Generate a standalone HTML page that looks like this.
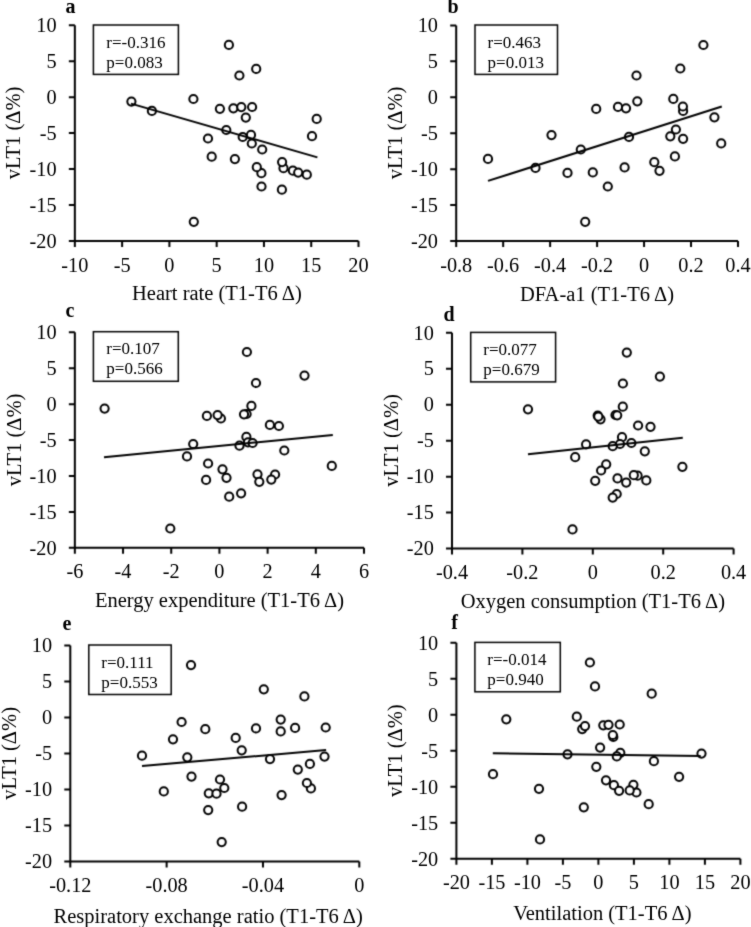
<!DOCTYPE html>
<html><head><meta charset="utf-8"><title>vLT1 correlations</title>
<style>
html,body{margin:0;padding:0;background:#fff;}
body{width:751px;height:927px;overflow:hidden;}
svg{display:block;will-change:transform;}
text{font-family:"Liberation Serif",serif;fill:#000;}
.t{font-size:20.3px;}
.tt{font-size:20.5px;}
.r{font-size:17.0px;}
.lb{font-size:20.0px;font-weight:bold;fill:#000;}
.ax{fill:none;stroke:#000;stroke-width:2.0;}
.bx{fill:none;stroke:#000;stroke-width:1.5;}
.ln{fill:none;stroke:#000;stroke-width:2;}
.pt{fill:#fff;stroke:#000;stroke-width:2.0;}
</style></head>
<body><svg width="751" height="927" viewBox="0 0 751 927">
<defs><filter id="sg" x="0" y="0" width="751" height="927" filterUnits="userSpaceOnUse" color-interpolation-filters="sRGB"><feConvolveMatrix order="3" kernelMatrix="0.03 0.1 0.03 0.1 0.48 0.1 0.03 0.1 0.03" edgeMode="duplicate"/></filter><filter id="st" x="0" y="0" width="751" height="927" filterUnits="userSpaceOnUse" color-interpolation-filters="sRGB"><feConvolveMatrix order="3" kernelMatrix="0.015 0.075 0.015 0.075 0.64 0.075 0.015 0.075 0.015" edgeMode="duplicate"/></filter></defs>
<rect width="751" height="927" fill="#fff"/>
<g filter="url(#sg)"><rect width="751" height="927" fill="#fff"/><path class="ax" d="M74.85 25.2V241.05H358.5M68.85 25.2H74.85M68.85 61.17H74.85M68.85 97.15H74.85M68.85 133.12H74.85M68.85 169.1H74.85M68.85 205.07H74.85M68.85 241.05H74.85M74.85 241.05V247.05M122.12 241.05V247.05M169.4 241.05V247.05M216.67 241.05V247.05M263.95 241.05V247.05M311.23 241.05V247.05M358.5 241.05V247.05"/><rect class="bx" x="93.4" y="25" width="85" height="49.4"/><g class="pt"><circle cx="228.9" cy="44.9" r="4.1"/><circle cx="256.2" cy="68.9" r="4.1"/><circle cx="239.4" cy="75.5" r="4.1"/><circle cx="131.4" cy="101.6" r="4.1"/><circle cx="151.9" cy="110.9" r="4.1"/><circle cx="193.4" cy="99" r="4.1"/><circle cx="219.9" cy="108.8" r="4.1"/><circle cx="233.4" cy="108.3" r="4.1"/><circle cx="241.3" cy="107.1" r="4.1"/><circle cx="252.1" cy="107" r="4.1"/><circle cx="245.8" cy="117.6" r="4.1"/><circle cx="316.7" cy="118.9" r="4.1"/><circle cx="226.3" cy="130" r="4.1"/><circle cx="208" cy="138.5" r="4.1"/><circle cx="242.7" cy="137" r="4.1"/><circle cx="251" cy="134.9" r="4.1"/><circle cx="251.8" cy="143.5" r="4.1"/><circle cx="262.2" cy="149.5" r="4.1"/><circle cx="312" cy="136.2" r="4.1"/><circle cx="211.7" cy="156.7" r="4.1"/><circle cx="234.9" cy="159.1" r="4.1"/><circle cx="283.5" cy="168.2" r="4.1"/><circle cx="282.1" cy="162.1" r="4.1"/><circle cx="261.4" cy="173.2" r="4.1"/><circle cx="256.8" cy="167.2" r="4.1"/><circle cx="292.9" cy="170.7" r="4.1"/><circle cx="298.2" cy="172.6" r="4.1"/><circle cx="306.8" cy="174.7" r="4.1"/><circle cx="261.5" cy="186.5" r="4.1"/><circle cx="281.9" cy="189.7" r="4.1"/><circle cx="193.8" cy="221.8" r="4.1"/></g><path class="ln" d="M131 103.6L317.4 157.4"/>
<path class="ax" d="M456.2 25.4V241H738M450.2 25.4H456.2M450.2 61.33H456.2M450.2 97.27H456.2M450.2 133.2H456.2M450.2 169.13H456.2M450.2 205.07H456.2M450.2 241H456.2M456.2 241V247M503.17 241V247M550.13 241V247M597.1 241V247M644.07 241V247M691.03 241V247M738 241V247"/><rect class="bx" x="475" y="25" width="82.5" height="49.4"/><g class="pt"><circle cx="703.4" cy="45" r="4.1"/><circle cx="680.3" cy="68.5" r="4.1"/><circle cx="636.5" cy="75.5" r="4.1"/><circle cx="637.3" cy="101.3" r="4.1"/><circle cx="673.3" cy="98.9" r="4.1"/><circle cx="596.2" cy="108.9" r="4.1"/><circle cx="618" cy="106.9" r="4.1"/><circle cx="626" cy="108.3" r="4.1"/><circle cx="683.1" cy="110.9" r="4.1"/><circle cx="682.9" cy="106.5" r="4.1"/><circle cx="714.4" cy="117.3" r="4.1"/><circle cx="629" cy="136.9" r="4.1"/><circle cx="675.9" cy="129.5" r="4.1"/><circle cx="670.3" cy="136.3" r="4.1"/><circle cx="683.1" cy="138.8" r="4.1"/><circle cx="721.2" cy="143.4" r="4.1"/><circle cx="674.9" cy="156.4" r="4.1"/><circle cx="654.3" cy="162.2" r="4.1"/><circle cx="659.5" cy="170.8" r="4.1"/><circle cx="624.6" cy="167.4" r="4.1"/><circle cx="592.8" cy="172.4" r="4.1"/><circle cx="488" cy="158.9" r="4.1"/><circle cx="535.5" cy="167.9" r="4.1"/><circle cx="551.5" cy="135.1" r="4.1"/><circle cx="580.8" cy="149.5" r="4.1"/><circle cx="567.5" cy="172.9" r="4.1"/><circle cx="607.8" cy="186.5" r="4.1"/><circle cx="585.2" cy="221.8" r="4.1"/></g><path class="ln" d="M488 180.9L721.8 106.5"/>
<path class="ax" d="M74.85 332.3V547.8H364M68.85 332.3H74.85M68.85 368.22H74.85M68.85 404.13H74.85M68.85 440.05H74.85M68.85 475.97H74.85M68.85 511.88H74.85M68.85 547.8H74.85M74.85 547.8V553.8M123.04 547.8V553.8M171.23 547.8V553.8M219.42 547.8V553.8M267.62 547.8V553.8M315.81 547.8V553.8M364 547.8V553.8"/><rect class="bx" x="93.4" y="331.7" width="84.9" height="49.6"/><g class="pt"><circle cx="104.6" cy="408.6" r="4.1"/><circle cx="246.9" cy="352" r="4.1"/><circle cx="304.5" cy="375.6" r="4.1"/><circle cx="256" cy="383" r="4.1"/><circle cx="206.9" cy="415.9" r="4.1"/><circle cx="220.9" cy="418.5" r="4.1"/><circle cx="217.6" cy="415.1" r="4.1"/><circle cx="246.6" cy="414" r="4.1"/><circle cx="251.4" cy="405.9" r="4.1"/><circle cx="244" cy="414.3" r="4.1"/><circle cx="269.9" cy="424.9" r="4.1"/><circle cx="278.9" cy="426" r="4.1"/><circle cx="246.4" cy="436.9" r="4.1"/><circle cx="248" cy="442.3" r="4.1"/><circle cx="252.6" cy="443" r="4.1"/><circle cx="239.5" cy="445.7" r="4.1"/><circle cx="193.2" cy="444" r="4.1"/><circle cx="187" cy="456.4" r="4.1"/><circle cx="284.3" cy="450.5" r="4.1"/><circle cx="331.8" cy="465.9" r="4.1"/><circle cx="208.1" cy="463.5" r="4.1"/><circle cx="222.5" cy="469.3" r="4.1"/><circle cx="226.5" cy="477.8" r="4.1"/><circle cx="206.1" cy="479.9" r="4.1"/><circle cx="257.5" cy="474.3" r="4.1"/><circle cx="259.3" cy="481.8" r="4.1"/><circle cx="275.1" cy="474.5" r="4.1"/><circle cx="271.3" cy="479.6" r="4.1"/><circle cx="241.1" cy="493.3" r="4.1"/><circle cx="229.2" cy="496.7" r="4.1"/><circle cx="170.3" cy="528.5" r="4.1"/></g><path class="ln" d="M104 457.2L332.8 434.9"/>
<path class="ax" d="M452 332.7V548.6H733.6M446 332.7H452M446 368.68H452M446 404.67H452M446 440.65H452M446 476.63H452M446 512.62H452M446 548.6H452M452 548.6V554.6M522.4 548.6V554.6M592.8 548.6V554.6M663.2 548.6V554.6M733.6 548.6V554.6"/><rect class="bx" x="470.7" y="332.4" width="84.9" height="49.5"/><g class="pt"><circle cx="626.8" cy="352.6" r="4.1"/><circle cx="659.9" cy="376.6" r="4.1"/><circle cx="622.9" cy="383.5" r="4.1"/><circle cx="528" cy="409.3" r="4.1"/><circle cx="622.8" cy="406.7" r="4.1"/><circle cx="600.5" cy="419.3" r="4.1"/><circle cx="597.7" cy="415.6" r="4.1"/><circle cx="598.3" cy="416.6" r="4.1"/><circle cx="615.5" cy="415" r="4.1"/><circle cx="617.2" cy="415.3" r="4.1"/><circle cx="638.1" cy="425.5" r="4.1"/><circle cx="650.5" cy="426.8" r="4.1"/><circle cx="622" cy="437.2" r="4.1"/><circle cx="620" cy="444" r="4.1"/><circle cx="612.7" cy="446.2" r="4.1"/><circle cx="631.4" cy="443" r="4.1"/><circle cx="586.1" cy="444.4" r="4.1"/><circle cx="644.8" cy="451.3" r="4.1"/><circle cx="575.2" cy="457.2" r="4.1"/><circle cx="606.2" cy="464.3" r="4.1"/><circle cx="601.1" cy="470.5" r="4.1"/><circle cx="595.2" cy="480.8" r="4.1"/><circle cx="617.5" cy="478.4" r="4.1"/><circle cx="626.2" cy="482.6" r="4.1"/><circle cx="637.6" cy="475.7" r="4.1"/><circle cx="633.8" cy="475.2" r="4.1"/><circle cx="646.3" cy="480.4" r="4.1"/><circle cx="616.7" cy="494" r="4.1"/><circle cx="612.7" cy="497.6" r="4.1"/><circle cx="572.5" cy="529.4" r="4.1"/><circle cx="682.4" cy="466.8" r="4.1"/></g><path class="ln" d="M528 454.2L682.8 437.7"/>
<path class="ax" d="M70.3 645.6V861.4H359.3M64.3 645.6H70.3M64.3 681.57H70.3M64.3 717.53H70.3M64.3 753.5H70.3M64.3 789.47H70.3M64.3 825.43H70.3M64.3 861.4H70.3M70.3 861.4V867.4M166.63 861.4V867.4M262.97 861.4V867.4M359.3 861.4V867.4"/><rect class="bx" x="88.8" y="645" width="82.4" height="49.5"/><g class="pt"><circle cx="191" cy="665.1" r="4.1"/><circle cx="263.8" cy="689.3" r="4.1"/><circle cx="304.4" cy="696.4" r="4.1"/><circle cx="181.6" cy="722" r="4.1"/><circle cx="205.3" cy="729.2" r="4.1"/><circle cx="173" cy="739.3" r="4.1"/><circle cx="235.7" cy="737.9" r="4.1"/><circle cx="280.7" cy="719.6" r="4.1"/><circle cx="256" cy="728.4" r="4.1"/><circle cx="280.7" cy="731.4" r="4.1"/><circle cx="295.1" cy="727.9" r="4.1"/><circle cx="325.7" cy="727.5" r="4.1"/><circle cx="142" cy="755.7" r="4.1"/><circle cx="187.3" cy="757.3" r="4.1"/><circle cx="241.7" cy="750.3" r="4.1"/><circle cx="270" cy="759.1" r="4.1"/><circle cx="324.5" cy="756.6" r="4.1"/><circle cx="309.9" cy="763.9" r="4.1"/><circle cx="297.8" cy="769.6" r="4.1"/><circle cx="191.5" cy="776.6" r="4.1"/><circle cx="220" cy="779.5" r="4.1"/><circle cx="224.3" cy="788" r="4.1"/><circle cx="208.8" cy="793.3" r="4.1"/><circle cx="216.5" cy="793.7" r="4.1"/><circle cx="163.8" cy="791.4" r="4.1"/><circle cx="310.9" cy="788.4" r="4.1"/><circle cx="306.9" cy="783" r="4.1"/><circle cx="281.6" cy="795.1" r="4.1"/><circle cx="208.2" cy="810.1" r="4.1"/><circle cx="242.1" cy="806.7" r="4.1"/><circle cx="221.7" cy="842.1" r="4.1"/></g><path class="ln" d="M142 766L326.1 750.1"/>
<path class="ax" d="M456.4 642.8V858.7H740.4M450.4 642.8H456.4M450.4 678.78H456.4M450.4 714.77H456.4M450.4 750.75H456.4M450.4 786.73H456.4M450.4 822.72H456.4M450.4 858.7H456.4M456.4 858.7V864.7M491.9 858.7V864.7M527.4 858.7V864.7M562.9 858.7V864.7M598.4 858.7V864.7M633.9 858.7V864.7M669.4 858.7V864.7M704.9 858.7V864.7M740.4 858.7V864.7"/><rect class="bx" x="474.9" y="642.4" width="85.4" height="49.4"/><g class="pt"><circle cx="589.9" cy="662.5" r="4.1"/><circle cx="595" cy="686.4" r="4.1"/><circle cx="651.7" cy="693.7" r="4.1"/><circle cx="506.3" cy="719.3" r="4.1"/><circle cx="576.8" cy="716.7" r="4.1"/><circle cx="582.2" cy="729.1" r="4.1"/><circle cx="585" cy="726.1" r="4.1"/><circle cx="603.3" cy="725.3" r="4.1"/><circle cx="608.5" cy="724.8" r="4.1"/><circle cx="619.7" cy="724.5" r="4.1"/><circle cx="613.3" cy="736.9" r="4.1"/><circle cx="612.8" cy="735" r="4.1"/><circle cx="600.1" cy="747.6" r="4.1"/><circle cx="567.5" cy="754.3" r="4.1"/><circle cx="620.3" cy="752.8" r="4.1"/><circle cx="616.8" cy="756.4" r="4.1"/><circle cx="653.9" cy="761.2" r="4.1"/><circle cx="596.3" cy="766.8" r="4.1"/><circle cx="701.5" cy="753.6" r="4.1"/><circle cx="493" cy="774.2" r="4.1"/><circle cx="539" cy="788.8" r="4.1"/><circle cx="583.8" cy="807.3" r="4.1"/><circle cx="540" cy="839.4" r="4.1"/><circle cx="679.1" cy="776.8" r="4.1"/><circle cx="606" cy="780.3" r="4.1"/><circle cx="613.9" cy="785.2" r="4.1"/><circle cx="619.1" cy="790.8" r="4.1"/><circle cx="636.4" cy="792.5" r="4.1"/><circle cx="633.4" cy="784.8" r="4.1"/><circle cx="629.7" cy="790.4" r="4.1"/><circle cx="648.7" cy="804.2" r="4.1"/></g><path class="ln" d="M492.8 753.3L700.7 756"/></g>
<g filter="url(#st)"><text class="t" x="56.65" y="32" text-anchor="end">10</text><text class="t" x="56.65" y="67.97" text-anchor="end">5</text><text class="t" x="56.65" y="103.95" text-anchor="end">0</text><text class="t" x="56.65" y="139.93" text-anchor="end">-5</text><text class="t" x="56.65" y="175.9" text-anchor="end">-10</text><text class="t" x="56.65" y="211.88" text-anchor="end">-15</text><text class="t" x="56.65" y="247.85" text-anchor="end">-20</text><text class="t" x="74.85" y="271.65" text-anchor="middle">-10</text><text class="t" x="122.12" y="271.65" text-anchor="middle">-5</text><text class="t" x="169.4" y="271.65" text-anchor="middle">0</text><text class="t" x="216.67" y="271.65" text-anchor="middle">5</text><text class="t" x="263.95" y="271.65" text-anchor="middle">10</text><text class="t" x="311.23" y="271.65" text-anchor="middle">15</text><text class="t" x="358.5" y="271.65" text-anchor="middle">20</text><text class="r" x="106.3" y="47.6">r=-0.316</text><text class="r" x="106.3" y="67.6">p=0.083</text><text class="lb" x="65.4" y="12.6">a</text><text class="tt" x="216.9" y="300.2" text-anchor="middle">Heart rate (T1-T6 Δ)</text><text class="tt" transform="translate(20.1 133) rotate(-90)" text-anchor="middle">vLT1 (Δ%)</text>
<text class="t" x="438" y="32.2" text-anchor="end">10</text><text class="t" x="438" y="68.13" text-anchor="end">5</text><text class="t" x="438" y="104.07" text-anchor="end">0</text><text class="t" x="438" y="140" text-anchor="end">-5</text><text class="t" x="438" y="175.93" text-anchor="end">-10</text><text class="t" x="438" y="211.87" text-anchor="end">-15</text><text class="t" x="438" y="247.8" text-anchor="end">-20</text><text class="t" x="456.2" y="271.6" text-anchor="middle">-0.8</text><text class="t" x="503.17" y="271.6" text-anchor="middle">-0.6</text><text class="t" x="550.13" y="271.6" text-anchor="middle">-0.4</text><text class="t" x="597.1" y="271.6" text-anchor="middle">-0.2</text><text class="t" x="644.07" y="271.6" text-anchor="middle">0</text><text class="t" x="691.03" y="271.6" text-anchor="middle">0.2</text><text class="t" x="738" y="271.6" text-anchor="middle">0.4</text><text class="r" x="487.6" y="47.6">r=0.463</text><text class="r" x="487.6" y="67.6">p=0.013</text><text class="lb" x="447.4" y="12.9">b</text><text class="tt" x="597" y="300.5" text-anchor="middle">DFA-a1 (T1-T6 Δ)</text><text class="tt" transform="translate(401.8 133) rotate(-90)" text-anchor="middle">vLT1 (Δ%)</text>
<text class="t" x="56.65" y="339.1" text-anchor="end">10</text><text class="t" x="56.65" y="375.02" text-anchor="end">5</text><text class="t" x="56.65" y="410.93" text-anchor="end">0</text><text class="t" x="56.65" y="446.85" text-anchor="end">-5</text><text class="t" x="56.65" y="482.77" text-anchor="end">-10</text><text class="t" x="56.65" y="518.68" text-anchor="end">-15</text><text class="t" x="56.65" y="554.6" text-anchor="end">-20</text><text class="t" x="74.85" y="578.4" text-anchor="middle">-6</text><text class="t" x="123.04" y="578.4" text-anchor="middle">-4</text><text class="t" x="171.23" y="578.4" text-anchor="middle">-2</text><text class="t" x="219.42" y="578.4" text-anchor="middle">0</text><text class="t" x="267.62" y="578.4" text-anchor="middle">2</text><text class="t" x="315.81" y="578.4" text-anchor="middle">4</text><text class="t" x="364" y="578.4" text-anchor="middle">6</text><text class="r" x="106.3" y="354.4">r=0.107</text><text class="r" x="106.3" y="374.3">p=0.566</text><text class="lb" x="65.6" y="316.6">c</text><text class="tt" x="219.5" y="606.6" text-anchor="middle">Energy expenditure (T1-T6 Δ)</text><text class="tt" transform="translate(20.5 440) rotate(-90)" text-anchor="middle">vLT1 (Δ%)</text>
<text class="t" x="433.8" y="339.5" text-anchor="end">10</text><text class="t" x="433.8" y="375.48" text-anchor="end">5</text><text class="t" x="433.8" y="411.47" text-anchor="end">0</text><text class="t" x="433.8" y="447.45" text-anchor="end">-5</text><text class="t" x="433.8" y="483.43" text-anchor="end">-10</text><text class="t" x="433.8" y="519.42" text-anchor="end">-15</text><text class="t" x="433.8" y="555.4" text-anchor="end">-20</text><text class="t" x="452" y="579.2" text-anchor="middle">-0.4</text><text class="t" x="522.4" y="579.2" text-anchor="middle">-0.2</text><text class="t" x="592.8" y="579.2" text-anchor="middle">0</text><text class="t" x="663.2" y="579.2" text-anchor="middle">0.2</text><text class="t" x="733.6" y="579.2" text-anchor="middle">0.4</text><text class="r" x="483.3" y="354.6">r=0.077</text><text class="r" x="483.3" y="375">p=0.679</text><text class="lb" x="443.4" y="321.4">d</text><text class="tt" x="592.9" y="607.9" text-anchor="middle">Oxygen consumption (T1-T6 Δ)</text><text class="tt" transform="translate(397.6 440.5) rotate(-90)" text-anchor="middle">vLT1 (Δ%)</text>
<text class="t" x="52.1" y="652.4" text-anchor="end">10</text><text class="t" x="52.1" y="688.37" text-anchor="end">5</text><text class="t" x="52.1" y="724.33" text-anchor="end">0</text><text class="t" x="52.1" y="760.3" text-anchor="end">-5</text><text class="t" x="52.1" y="796.27" text-anchor="end">-10</text><text class="t" x="52.1" y="832.23" text-anchor="end">-15</text><text class="t" x="52.1" y="868.2" text-anchor="end">-20</text><text class="t" x="70.3" y="892" text-anchor="middle">-0.12</text><text class="t" x="166.63" y="892" text-anchor="middle">-0.08</text><text class="t" x="262.97" y="892" text-anchor="middle">-0.04</text><text class="t" x="359.3" y="892" text-anchor="middle">0</text><text class="r" x="101.3" y="667.6">r=0.111</text><text class="r" x="101.3" y="687.6">p=0.553</text><text class="lb" x="62.6" y="630">e</text><text class="tt" x="208.2" y="922.7" text-anchor="middle">Respiratory exchange ratio (T1-T6 Δ)</text><text class="tt" transform="translate(15.8 753.4) rotate(-90)" text-anchor="middle">vLT1 (Δ%)</text>
<text class="t" x="438.2" y="649.6" text-anchor="end">10</text><text class="t" x="438.2" y="685.58" text-anchor="end">5</text><text class="t" x="438.2" y="721.57" text-anchor="end">0</text><text class="t" x="438.2" y="757.55" text-anchor="end">-5</text><text class="t" x="438.2" y="793.53" text-anchor="end">-10</text><text class="t" x="438.2" y="829.52" text-anchor="end">-15</text><text class="t" x="438.2" y="865.5" text-anchor="end">-20</text><text class="t" x="456.4" y="889.3" text-anchor="middle">-20</text><text class="t" x="491.9" y="889.3" text-anchor="middle">-15</text><text class="t" x="527.4" y="889.3" text-anchor="middle">-10</text><text class="t" x="562.9" y="889.3" text-anchor="middle">-5</text><text class="t" x="598.4" y="889.3" text-anchor="middle">0</text><text class="t" x="633.9" y="889.3" text-anchor="middle">5</text><text class="t" x="669.4" y="889.3" text-anchor="middle">10</text><text class="t" x="704.9" y="889.3" text-anchor="middle">15</text><text class="t" x="740.4" y="889.3" text-anchor="middle">20</text><text class="r" x="487.3" y="664.8">r=-0.014</text><text class="r" x="487.3" y="684.8">p=0.940</text><text class="lb" x="451.2" y="628.5">f</text><text class="tt" x="602.4" y="919.6" text-anchor="middle">Ventilation (T1-T6 Δ)</text><text class="tt" transform="translate(402 750.7) rotate(-90)" text-anchor="middle">vLT1 (Δ%)</text></g>
</svg></body></html>
